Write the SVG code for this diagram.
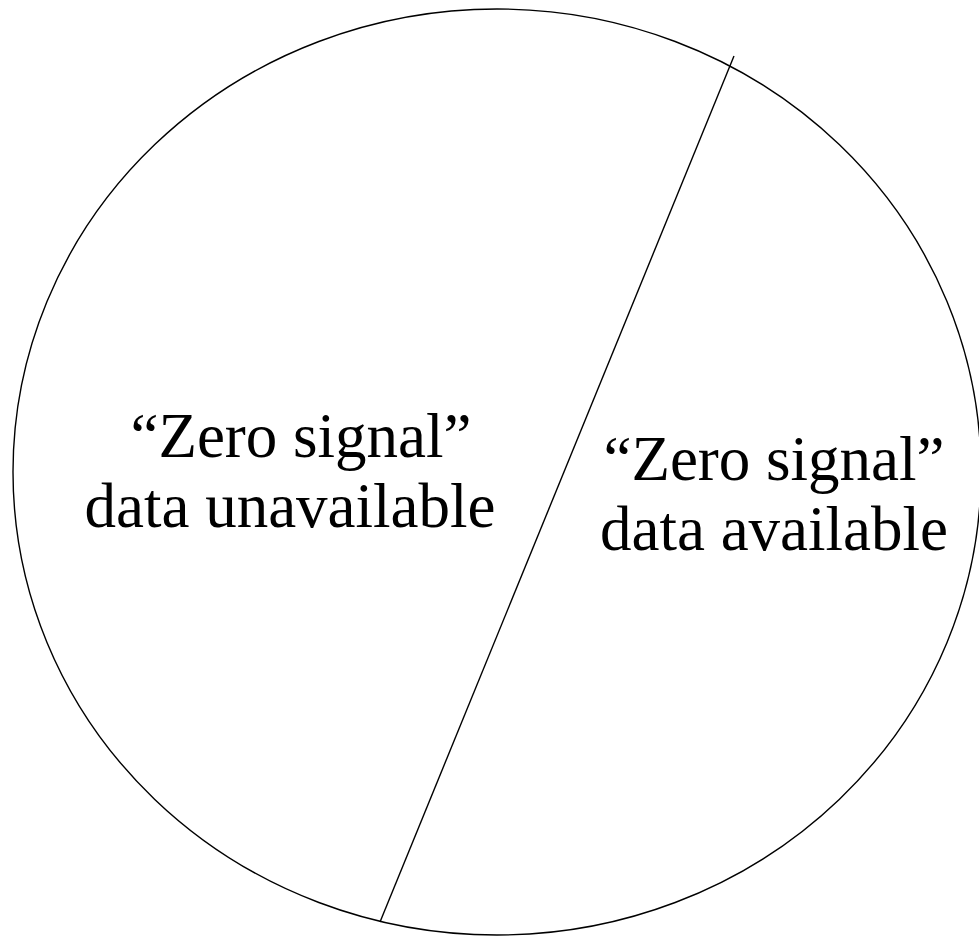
<svg xmlns="http://www.w3.org/2000/svg" width="979" height="937" viewBox="0 0 979 937">
<style>
.shape{fill:none;stroke:#000;stroke-width:1.4}
.lbl{font-family:"Liberation Serif","Times New Roman",serif;font-size:63px;fill:#000;text-anchor:middle}
</style>
<rect width="979" height="937" fill="#fff"/>
<g id="circle"><ellipse class="shape" cx="497" cy="472" rx="484" ry="463"/></g>
<g id="connectors"><line class="shape" x1="734" y1="56" x2="380" y2="922"/></g>
<g id="left">
<text class="lbl" x="301" y="457">“Zero signal”</text>
<text class="lbl" x="290" y="527">data unavailable</text>
</g>
<g id="right">
<text class="lbl" x="774" y="480">“Zero signal”</text>
<text class="lbl" x="774" y="550">data available</text>
</g>
</svg>
